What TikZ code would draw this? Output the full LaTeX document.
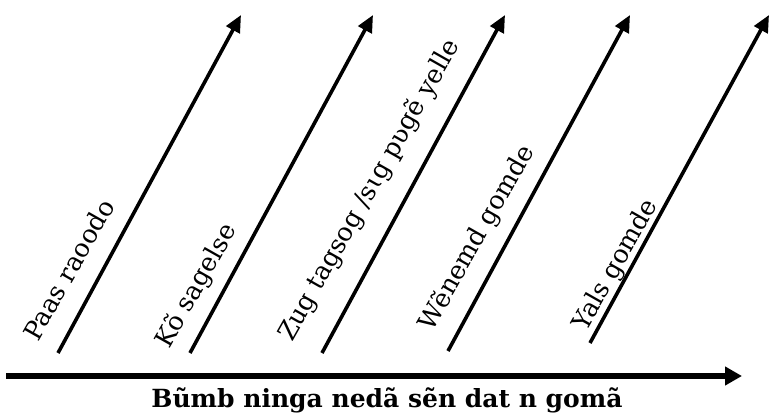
\documentclass[tikz,border=0pt]{standalone}
\usepackage{fontspec}
\setmainfont{DejaVu Serif}
\usetikzlibrary{arrows.meta}
\tikzset{
  diag/.style={line width=3.6pt, -{Triangle[length=17pt,width=15pt]}},
  axis/.style={line width=6pt, -{Triangle[length=17pt,width=18pt]}},
  lab/.style={rotate=60.5, anchor=base west, inner sep=0pt, font=\fontsize{25.5}{30}\selectfont},
  blab/.style={anchor=base, inner sep=0pt, font=\fontsize{25}{30}\selectfont\bfseries}
}
\begin{document}
\begin{tikzpicture}[x=1pt,y=1pt]
\useasboundingbox (0,0) rectangle (771,415);
\coordinate (s1) at (58,62);  \coordinate (e1) at (241,400);
\coordinate (s2) at (190,62); \coordinate (e2) at (373,400);
\coordinate (s3) at (322,62); \coordinate (e3) at (505,400);
\coordinate (s4) at (448,64); \coordinate (e4) at (630,400);
\coordinate (s5) at (590,72); \coordinate (e5) at (769,400);
\coordinate (hs) at (6,39);   \coordinate (he) at (742,39);
\draw[diag] (s1) -- (e1);
\draw[diag] (s2) -- (e2);
\draw[diag] (s3) -- (e3);
\draw[diag] (s4) -- (e4);
\draw[diag] (s5) -- (e5);
\draw[axis] (hs) -- (he);
\node[lab] (l1) at (38,72) {Paas raoodo};
\node[lab] (l2) at (169,65) {Kõ sagelse};
\node[lab] (l3) at (292,72) {Zug tagsog /sɩg pʋgẽ yelle};
\node[lab] (l4) at (432,82) {Wẽnemd gomde};
\node[lab] (l5) at (586,82) {Yals gomde};
\node[blab] (lb) at (387,8) {Bũmb ninga nedã sẽn dat n gomã};
\end{tikzpicture}
\end{document}
